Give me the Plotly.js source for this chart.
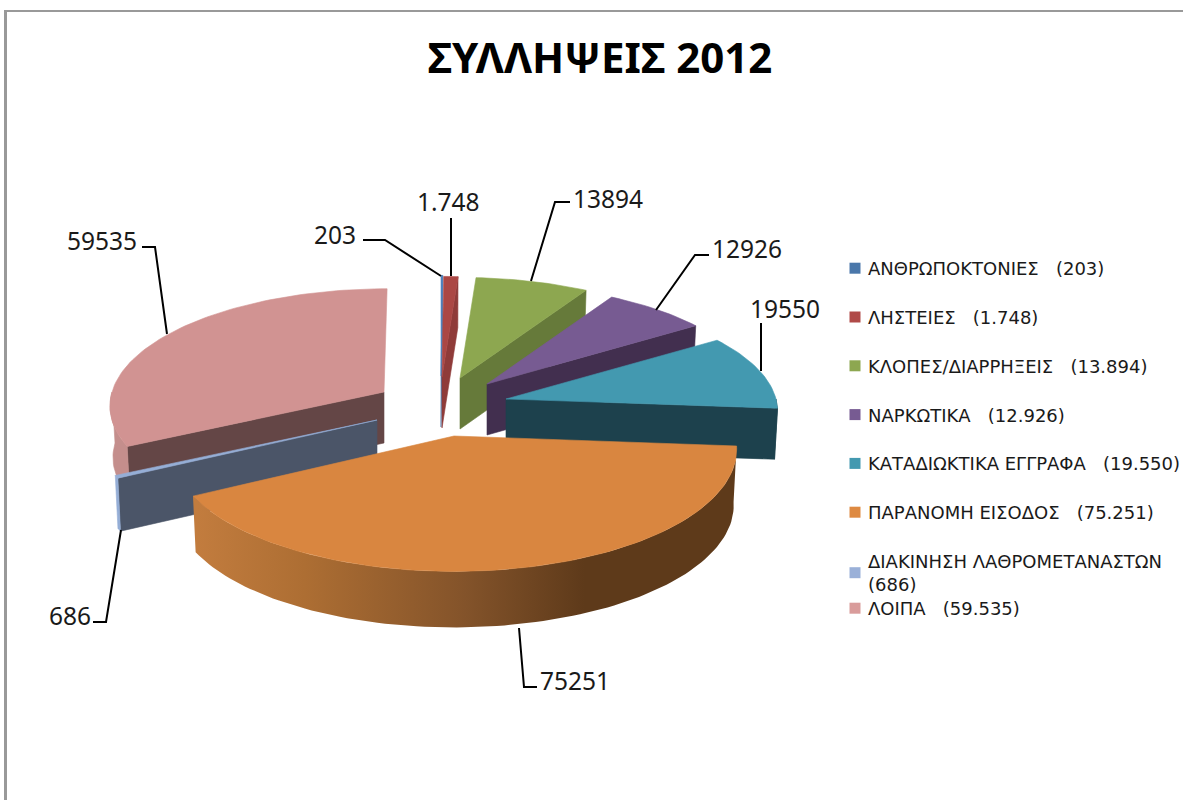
<!DOCTYPE html>
<html><head><meta charset="utf-8">
<script src="https://cdn.plot.ly/plotly-3.0.1.min.js"></script>
<style>html,body{margin:0;padding:0;background:#fff;overflow:hidden}</style></head>
<body><div id="chart" style="width:1183px;height:800px"></div>
<script>
// ---- data ----
const categories = ["ΑΝΘΡΩΠΟΚΤΟΝΙΕΣ","ΛΗΣΤΕΙΕΣ","ΚΛΟΠΕΣ/ΔΙΑΡΡΗΞΕΙΣ","ΝΑΡΚΩΤΙΚΑ","ΚΑΤΑΔΙΩΚΤΙΚΑ ΕΓΓΡΑΦΑ","ΠΑΡΑΝΟΜΗ ΕΙΣΟΔΟΣ","ΔΙΑΚΙΝΗΣΗ ΛΑΘΡΟΜΕΤΑΝΑΣΤΩΝ","ΛΟΙΠΑ"];
const values = [203,1748,13894,12926,19550,75251,686,59535];
const valueTexts = ["203","1.748","13.894","12.926","19.550","75.251","686","59.535"];
const dataLabels = ["203","1.748","13894","12926","19550","75251","686","59535"];

// ---- styling and geometry of the drawing ----
const topColors  = ["#4f81bd","#ab4744","#8da750","#775b92","#4399b0","#d98640","#95aed6","#d19392"];
const wallColors = ["#3f6c9e","#8f3b39","#667a3a","#422f4f","#1d414d","#5c3818","#4b5568","#644646"];
const legendColors = ["#4a77aa","#b04a48","#8da750","#775b92","#4399b0","#de8a42","#9ab0d8","#d99c9b"];
const apexX = [441,442,460,487,506,454,377,384];
const apexY = [376,377,378,384,399,436,420,392];
const radiusX = [270,270,270,267,270,281,279,272];
const radiusY = [113,113,113,112,113,122,118,116];
const lean = [0,0,0,0,0,0,0,0.03];
const depth = [51,51,51,51,51,56,53,51];
const paintOrder = [0,1,2,3,4,7,6,5];
const perspective = 0.11, taper = 3;

const total = values.reduce((a,b)=>a+b,0);
let run = 0;
const startDeg = [], endDeg = [];
values.forEach(v=>{ startDeg.push(run/total*360); run+=v; endDeg.push(run/total*360); });

function rim(i,deg){
  const t = deg*Math.PI/180, p = 1-perspective*Math.cos(t), dy = radiusY[i]*Math.cos(t)*p;
  return [apexX[i]+radiusX[i]*Math.sin(t)*p + lean[i]*dy, apexY[i]-dy];
}
function arc(i,a,b){
  const n = Math.max(2,Math.ceil((b-a)/1.5)), out=[];
  for(let k=0;k<=n;k++) out.push(rim(i,a+(b-a)*k/n));
  return out;
}
function down(i,p,deg){ return [p[0]-taper*Math.sin(deg*Math.PI/180), p[1]+depth[i]]; }
function poly(pts,color,extra){
  const xs=pts.map(p=>p[0]).concat(pts[0][0]), ys=pts.map(p=>p[1]).concat(pts[0][1]);
  return Object.assign({type:"scatter",x:xs,y:ys,mode:"lines",fill:"toself",fillcolor:color,
    line:{color:color,width:0.6},hoverinfo:"skip",showlegend:false},extra||{});
}

const traces=[];
paintOrder.forEach(i=>{
  const a=startDeg[i], b=endDeg[i], apex=[apexX[i],apexY[i]], apexDown=[apexX[i],apexY[i]+depth[i]];
  // visible radial face
  if(b<=95){ const r=rim(i,b); traces.push(poly([apex,r,down(i,r,b),apexDown],wallColors[i])); }
  else if(a>=180 && a<270){ const r=rim(i,a); traces.push(poly([apex,r,down(i,r,a),apexDown],wallColors[i])); }
  // visible outer rim
  const ra=Math.max(a,90), rb=Math.min(b,270);
  if(rb>ra){
    const n=Math.max(2,Math.ceil((rb-ra)/1.5)), up=[], lo=[];
    for(let k=0;k<=n;k++){ const d=ra+(rb-ra)*k/n, r=rim(i,d); up.push(r); lo.unshift(down(i,r,d)); }
    const extra={};
    if(i===5) extra.fillgradient={type:"horizontal",start:197,stop:735,
      colorscale:[[0,"#c27c3e"],[0.2,"#ad6e33"],[0.5,"#83532a"],[0.72,"#5e3a1a"],[1,"#5e3a1a"]]};
    const col = i===7 ? "#c48e8c" : i===5 ? "#83532a" : i===6 ? topColors[6] : wallColors[i];
    const t=poly(up.concat(lo),col,extra);
    if(i===5){ t.line={width:0}; }
    traces.push(t);
  }
  // top face
  traces.push(poly([apex].concat(arc(i,a,b)),topColors[i]));
});

// legend entries: small squares
categories.forEach((c,i)=>{
  const name=(i===6? c+"<br>" : c+"\u00a0\u00a0\u00a0")+"("+valueTexts[i]+")";
  traces.push({type:"scatter",x:[null],y:[null],mode:"markers",name:name,
    marker:{symbol:"square",size:11,color:legendColors[i]},hoverinfo:"skip",
    legendgroup:"g"+i,legendrank:i+1,legend:i===7?"legend2":"legend",showlegend:true});
});

const labelX=[358,448.5,608,747,784.5,575,70,102];
const labelY=[234,201,198,248,308,680,615,240];
const annotations=dataLabels.map((t,i)=>({x:labelX[i],y:labelY[i],xref:"x",yref:"y",text:t,showarrow:false,
  xanchor:i===0?"right":"center",yanchor:"middle",font:{family:"Noto Sans",size:24.5,color:"#1a1a1a"}}));

const leaders=[
 "M363,240 L385,240 L441,276","M451,218 L451,276","M570,202 L555,202 L531,281",
 "M709,255 L695,255 L656,310","M761,323 L761,371","M537,687 L524,687 L519,628",
 "M93,622 L106,622 L121,530","M142,247 L155,247 L167,334"];
const shapes=leaders.map(p=>({type:"path",path:p,xref:"x",yref:"y",line:{color:"#000",width:2}}));
shapes.push({type:"rect",xref:"x",yref:"y",x0:4,x1:7,y0:10,y1:800,fillcolor:"#999",line:{width:0}});
shapes.push({type:"rect",xref:"x",yref:"y",x0:4,x1:1183,y0:10,y1:12,fillcolor:"#999",line:{width:0}});

const legendFont={family:"DejaVu Sans",size:18,color:"#1a1a1a"};
const legendX=818, legendNudge=10;
const layout={
  width:1183,height:800,margin:{l:0,r:0,t:0,b:0},paper_bgcolor:"#fff",plot_bgcolor:"#fff",
  title:{text:"<b>ΣΥΛΛΗΨΕΙΣ 2012</b>",x:600/1183,xanchor:"center",y:1-58/800,yanchor:"middle",
    font:{family:"Noto Sans",size:42,color:"#000"}},
  xaxis:{range:[0,1183],visible:false,fixedrange:true},
  yaxis:{range:[800,0],visible:false,fixedrange:true},
  showlegend:true,
  legend:{x:legendX/1183,y:1-250/800,xanchor:"left",yanchor:"top",tracegroupgap:22.4,bgcolor:"rgba(0,0,0,0)",font:legendFont,traceorder:"grouped"},
  legend2:{x:legendX/1183,y:1-590/800,xanchor:"left",yanchor:"top",bgcolor:"rgba(0,0,0,0)",font:legendFont},
  annotations:annotations,shapes:shapes
};
Plotly.newPlot("chart",traces,layout,{displayModeBar:false,staticPlot:true}).then(()=>{
  document.querySelectorAll(".legendpoints").forEach(g=>g.setAttribute("transform","translate(7,0)"));
  document.querySelectorAll(".infolayer > .legend, .infolayer > .legend2").forEach(g=>{
    const m=/translate\(([-\d.]+),\s*([-\d.]+)\)/.exec(g.getAttribute("transform")||"");
    if(m) g.setAttribute("transform","translate("+(parseFloat(m[1])+legendNudge)+","+m[2]+")");
  });
});
</script></body></html>
